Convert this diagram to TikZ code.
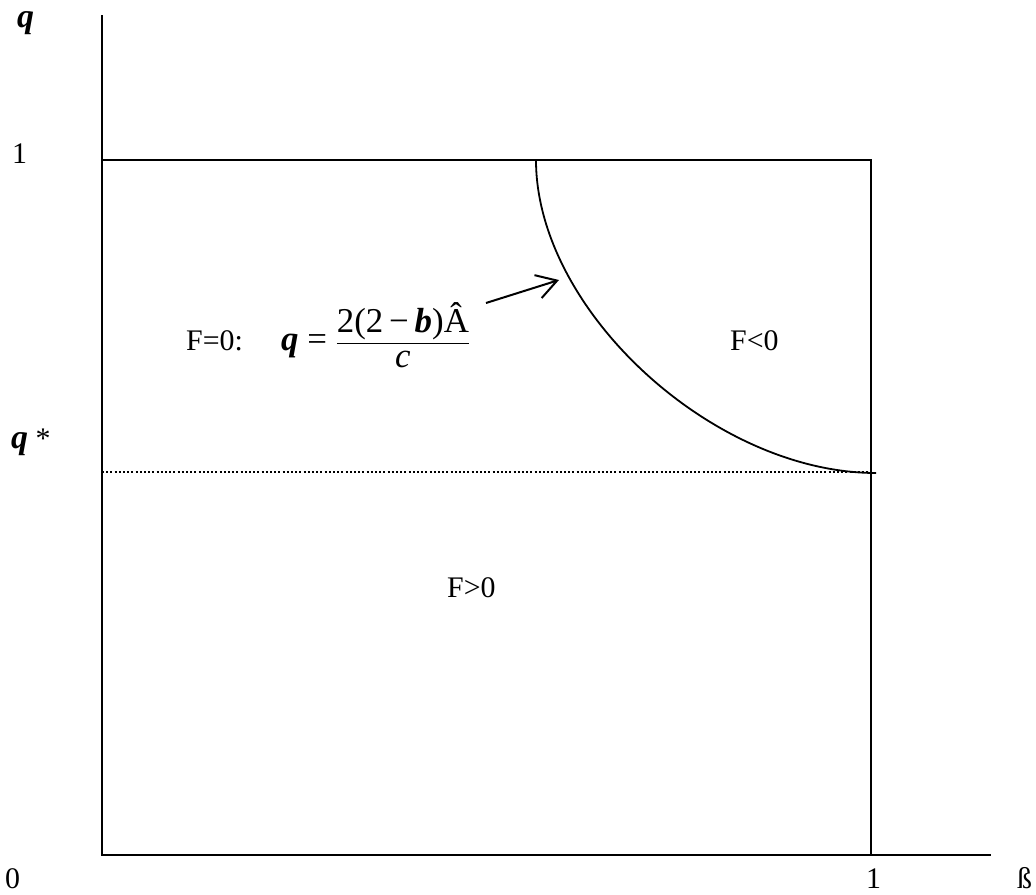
\documentclass[tikz,border=0pt]{standalone}
\usepackage{fontspec}
\usepackage{amsmath}
\setmainfont{Liberation Serif}
\usetikzlibrary{arrows.meta}
\begin{document}
\begin{tikzpicture}[x=1bp,y=-1bp,
  font=\fontsize{30}{36}\selectfont,
  axis/.style={line width=2bp},
  curveline/.style={line width=1.8bp},
  dotline/.style={line width=1.5bp, dash pattern=on 2bp off 2.2bp},
  arr/.style={line width=2bp, -{Straight Barb[length=20bp,width=24bp,line width=2bp]}},
  lbl/.style={inner sep=0pt, anchor=base west},
  big/.style={font=\fontsize{34}{40}\selectfont}]
\useasboundingbox (0,0) rectangle (1036,895);
% frame coordinates
\coordinate (O) at (102,855);
\coordinate (ytop) at (102,15);
\coordinate (xend) at (991,855);
\coordinate (tl) at (102,160);
\coordinate (tr) at (871,160);
\coordinate (br) at (871,855);
\coordinate (cstart) at (536,160);
\coordinate (cend) at (876,473);
\coordinate (dl) at (102,472);
\coordinate (dr) at (871,472);
\coordinate (arrtail) at (486,303);
\coordinate (arrtip) at (559,280);
% lines
\draw[axis] (ytop) -- (O) -- (xend);
\draw[axis] (tl) -- (tr) -- (br);
\draw[curveline] (cstart) .. controls (536,310) and (713,473) .. (cend);
\draw[dotline] (dl) -- (dr);
\draw[arr] (arrtail) -- (arrtip);
% labels
\node[lbl,big] (qlab) at (17,27) {\textbf{\textit{q}}};
\node[lbl] (one) at (12,163) {1};
\node[lbl,big] (qstar) at (11,448) {\textbf{\textit{q}}\fontsize{30}{36}\selectfont\ *};
\node[lbl] (zero) at (5,888) {0};
\node[lbl] (onex) at (866,888) {1};
\node[lbl] (beta) at (1017,888) {ß};
\node[lbl] (fneg) at (730,350) {F<0};
\node[lbl] (fpos) at (447,597) {F>0};
\node[lbl] (fzero) at (186,350) {F=0:};
\node[lbl,font=\fontsize{35}{42}\selectfont] (formula) at (281,350) {\textbf{\textit{q}} = $\dfrac{\text{2(2\,−\,\textbf{\textit{b}})Â}}{\text{\textit{c}}}$};
\end{tikzpicture}
\end{document}
